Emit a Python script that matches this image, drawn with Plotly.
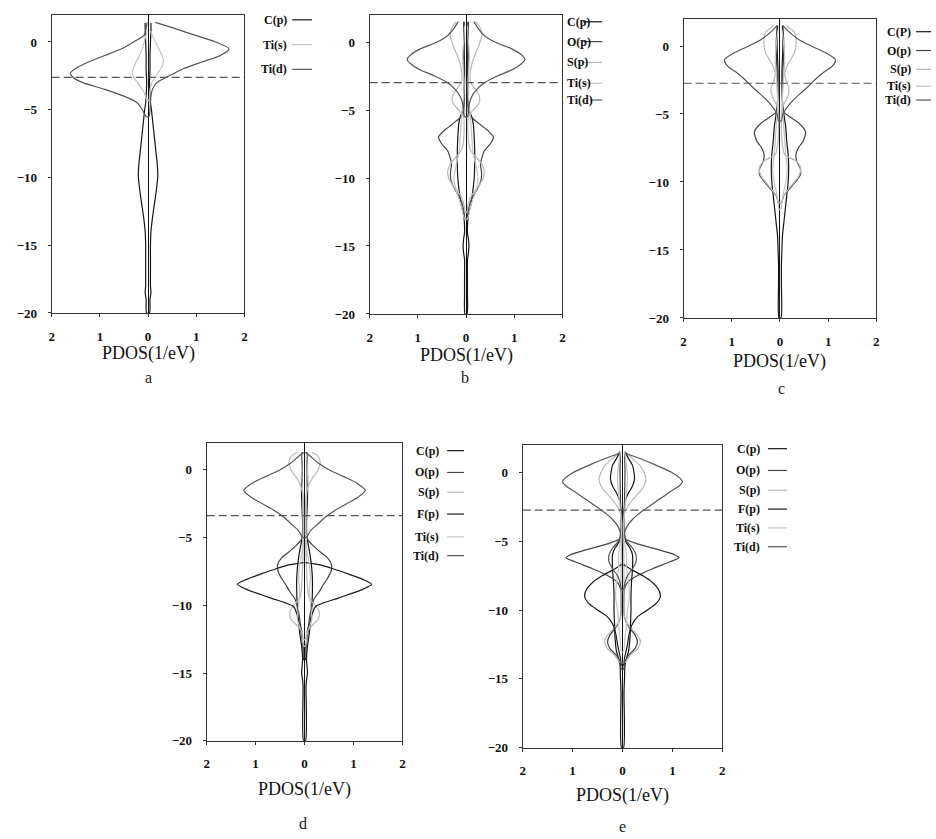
import plotly.graph_objects as go

W, H = 936, 839

# ---------------- data (energy in eV, PDOS in 1/eV) ----------------
# panel a
a_E_cp = [1.4, 1.0, 0.0, -1.0, -2.0, -3.0, -4.0, -4.5, -5.0, -6.0, -7.0, -8.0, -9.0, -9.5, -10.0, -11.0, -12.0, -13.0, -14.0, -15.0, -16.0, -17.0, -18.0, -18.5, -19.0, -20.0]
a_cp = [0.06, 0.06, 0.05, 0.04, 0.04, 0.03, 0.04, 0.05, 0.07, 0.10, 0.13, 0.16, 0.19, 0.20, 0.20, 0.17, 0.13, 0.09, 0.06, 0.05, 0.05, 0.05, 0.05, 0.06, 0.04, 0.03]
a_E_tis = [0.8, 0.0, -0.5, -1.0, -1.4, -2.0, -2.3, -2.6, -3.0, -3.5, -4.0, -4.3]
a_tis_r = [0.05, 0.15, 0.22, 0.29, 0.32, 0.26, 0.20, 0.14, 0.08, 0.04, 0.03, 0.02]
a_tis_l = [0.02, 0.08, 0.12, 0.18, 0.24, 0.31, 0.33, 0.30, 0.22, 0.12, 0.05, 0.02]
a_E_tid = [1.45, 1.0, 0.5, 0.0, -0.5, -1.0, -1.5, -2.0, -2.3, -2.6, -3.0, -3.5, -4.0, -4.5, -5.0, -5.5]
a_tid_r = [0.15, 0.55, 0.97, 1.40, 1.68, 1.50, 1.10, 0.72, 0.55, 0.38, 0.18, 0.09, 0.06, 0.05, 0.04, 0.02]
a_tid_l = [0.02, 0.04, 0.08, 0.30, 0.55, 0.90, 1.25, 1.52, 1.61, 1.56, 1.35, 0.90, 0.50, 0.22, 0.12, 0.04]

# panel b
b_E_cp = [1.5, 0.0, -2.0, -4.0, -5.0, -5.5, -6.0, -7.0, -8.0, -9.0, -10.0, -11.0, -12.0, -12.5, -13.0, -14.0, -14.5, -15.0, -15.5, -16.0, -17.0, -18.5, -20.0]
b_cp = [0.04, 0.04, 0.03, 0.04, 0.06, 0.12, 0.15, 0.17, 0.18, 0.18, 0.17, 0.14, 0.10, 0.06, 0.04, 0.03, 0.05, 0.06, 0.05, 0.03, 0.03, 0.03, 0.02]
b_E_op = [1.5, 0.0, -2.0, -4.0, -5.3, -5.8, -6.5, -7.0, -7.5, -8.0, -8.5, -9.0, -9.5, -10.0, -10.5, -11.0, -11.5, -12.0, -12.5, -13.0]
b_op = [0.05, 0.05, 0.04, 0.04, 0.06, 0.20, 0.45, 0.57, 0.50, 0.38, 0.33, 0.30, 0.32, 0.32, 0.28, 0.20, 0.12, 0.07, 0.04, 0.02]
b_E_sp = [1.5, 1.0, 0.5, 0.0, -0.5, -1.0, -1.5, -2.0, -2.5, -3.0, -3.5, -4.0, -4.5, -5.0, -5.5, -6.5, -7.5, -8.0, -8.5, -9.0, -9.5, -10.0, -10.5, -11.0, -11.5, -12.0, -12.5]
b_sp = [0.20, 0.30, 0.33, 0.29, 0.24, 0.18, 0.13, 0.10, 0.08, 0.10, 0.20, 0.28, 0.27, 0.15, 0.05, 0.04, 0.06, 0.10, 0.22, 0.33, 0.38, 0.36, 0.28, 0.17, 0.08, 0.04, 0.02]
b_E_tis = [1.2, 0.0, -1.0, -2.0, -3.0, -4.0, -5.0, -6.0, -7.0, -8.0, -9.0, -10.0, -11.0, -12.0, -13.0]
b_tis = [0.03, 0.05, 0.07, 0.06, 0.04, 0.05, 0.08, 0.10, 0.12, 0.14, 0.20, 0.25, 0.20, 0.10, 0.03]
b_E_tid = [1.5, 1.0, 0.5, 0.0, -0.5, -1.0, -1.3, -1.6, -2.0, -2.5, -3.0, -3.5, -4.0, -4.5, -5.0, -5.5]
b_tid = [0.16, 0.25, 0.37, 0.60, 0.95, 1.17, 1.22, 1.15, 0.98, 0.65, 0.38, 0.22, 0.12, 0.07, 0.05, 0.03]

# panel c
c_E_cp = [1.5, 0.0, -2.0, -4.0, -5.0, -6.0, -7.0, -8.0, -9.0, -10.0, -11.0, -12.0, -13.0, -14.0, -15.0, -16.0, -17.5, -20.0]
c_cp = [0.05, 0.06, 0.04, 0.05, 0.08, 0.12, 0.14, 0.17, 0.18, 0.17, 0.14, 0.11, 0.08, 0.05, 0.04, 0.03, 0.03, 0.02]
c_E_op = [1.5, 0.0, -2.0, -4.0, -4.8, -5.2, -5.7, -6.3, -7.0, -7.5, -8.0, -8.5, -9.0, -9.5, -10.0, -10.5, -11.0, -11.5]
c_op = [0.06, 0.08, 0.06, 0.05, 0.06, 0.20, 0.40, 0.53, 0.48, 0.38, 0.33, 0.35, 0.42, 0.42, 0.32, 0.20, 0.08, 0.03]
c_E_sp = [1.5, 1.0, 0.5, 0.0, -0.5, -1.0, -1.5, -2.0, -2.5, -3.0, -3.5, -4.0, -4.5, -5.0, -6.0, -7.0, -7.5, -8.0, -8.5, -9.0, -9.5, -10.0, -10.5, -11.0, -11.5]
c_sp = [0.12, 0.30, 0.33, 0.33, 0.30, 0.22, 0.14, 0.10, 0.12, 0.18, 0.18, 0.12, 0.05, 0.03, 0.03, 0.04, 0.06, 0.10, 0.35, 0.43, 0.40, 0.30, 0.18, 0.08, 0.02]
c_E_tis = [1.2, 0.0, -1.0, -2.0, -3.0, -4.0, -5.0, -6.0, -7.0, -8.0, -9.0, -10.0, -11.0, -12.0]
c_tis = [0.04, 0.08, 0.10, 0.08, 0.06, 0.05, 0.06, 0.08, 0.10, 0.12, 0.15, 0.12, 0.06, 0.02]
c_E_tid = [1.5, 1.0, 0.5, 0.0, -0.5, -1.0, -1.5, -2.0, -2.5, -3.0, -3.5, -4.0, -4.5, -5.0, -5.5]
c_tid = [0.06, 0.20, 0.38, 0.65, 0.95, 1.15, 1.08, 0.88, 0.72, 0.58, 0.42, 0.27, 0.15, 0.06, 0.03]

# panel d
d_E_cp = [1.3, 0.0, -2.0, -3.0, -4.0, -5.0, -6.0, -7.0, -8.0, -9.0, -10.0, -11.0, -12.0, -13.0, -14.0, -14.5, -15.0, -15.5, -16.0, -20.0]
d_cp = [0.05, 0.06, 0.06, 0.05, 0.04, 0.05, 0.10, 0.14, 0.16, 0.16, 0.15, 0.13, 0.10, 0.06, 0.04, 0.05, 0.06, 0.04, 0.03, 0.02]
d_E_op = [1.3, 0.0, -2.0, -4.0, -4.9, -5.5, -6.0, -6.5, -7.0, -7.5, -8.0, -8.5, -9.0, -9.5, -10.0, -10.5, -11.0, -11.5, -12.0, -13.0]
d_op = [0.04, 0.05, 0.04, 0.03, 0.02, 0.15, 0.30, 0.47, 0.55, 0.54, 0.47, 0.38, 0.30, 0.20, 0.15, 0.12, 0.10, 0.08, 0.05, 0.03]
d_E_sp = [1.3, 1.0, 0.5, 0.0, -0.5, -1.0, -1.5, -2.0, -4.0, -6.0, -8.0, -9.0, -9.5, -10.0, -10.5, -11.0, -11.5, -12.0, -12.5]
d_sp = [0.15, 0.28, 0.32, 0.28, 0.18, 0.10, 0.05, 0.03, 0.02, 0.03, 0.05, 0.07, 0.10, 0.22, 0.30, 0.28, 0.15, 0.05, 0.02]
d_E_fp = [-6.85, -7.0, -7.3, -7.7, -8.1, -8.45, -8.8, -9.2, -9.5, -9.8, -10.1, -10.5, -11.0, -12.0, -13.0, -14.0]
d_fp = [0.02, 0.30, 0.58, 0.90, 1.20, 1.37, 1.20, 0.90, 0.66, 0.40, 0.22, 0.17, 0.13, 0.07, 0.03, 0.02]
d_E_tis = [1.2, 0.0, -1.0, -2.0, -4.0, -6.0, -7.0, -8.0, -9.0, -10.0, -11.0, -12.0, -13.0]
d_tis = [0.04, 0.06, 0.05, 0.04, 0.03, 0.05, 0.10, 0.12, 0.10, 0.12, 0.15, 0.06, 0.02]
d_E_tid = [1.3, 1.0, 0.5, 0.0, -0.5, -1.0, -1.5, -2.0, -2.5, -3.0, -3.5, -4.0, -4.5, -5.0]
d_tid = [0.02, 0.12, 0.28, 0.50, 0.80, 1.08, 1.24, 1.10, 0.86, 0.62, 0.42, 0.27, 0.12, 0.03]

# panel e
e_E_cp = [1.5, 1.0, 0.5, 0.0, -0.5, -1.0, -1.5, -2.0, -2.5, -3.0, -4.0, -5.0, -5.5, -6.0, -7.0, -8.0, -9.0, -10.0, -11.0, -12.0, -13.0, -13.5, -14.0, -15.0, -16.0, -20.0]
e_cp = [0.05, 0.12, 0.20, 0.23, 0.24, 0.20, 0.12, 0.06, 0.04, 0.03, 0.03, 0.06, 0.15, 0.20, 0.20, 0.18, 0.17, 0.17, 0.16, 0.15, 0.12, 0.08, 0.05, 0.04, 0.03, 0.02]
e_E_op = [1.5, 0.0, -2.0, -4.0, -4.8, -5.2, -5.6, -6.0, -6.2, -6.5, -7.0, -7.5, -8.0, -8.5, -10.5, -11.2, -11.8, -12.3, -12.8, -13.3, -13.8, -14.3]
e_op = [0.04, 0.05, 0.04, 0.03, 0.05, 0.30, 0.70, 1.05, 1.13, 0.95, 0.60, 0.30, 0.10, 0.04, 0.04, 0.12, 0.25, 0.30, 0.25, 0.12, 0.05, 0.02]
e_E_sp = [1.5, 1.0, 0.5, 0.0, -0.5, -1.0, -1.5, -2.0, -2.5, -3.0, -3.5, -5.0, -7.0, -9.0, -10.5, -11.0, -11.5, -12.0, -12.3, -12.8, -13.3, -13.8]
e_sp = [0.05, 0.20, 0.35, 0.43, 0.47, 0.43, 0.33, 0.20, 0.10, 0.04, 0.02, 0.02, 0.03, 0.03, 0.04, 0.10, 0.22, 0.33, 0.36, 0.30, 0.15, 0.05]
e_E_fp = [-6.7, -7.0, -7.5, -8.0, -8.5, -9.0, -9.5, -10.0, -10.5, -11.0, -11.5, -12.0, -12.5, -13.0, -13.5, -14.0]
e_fp = [0.02, 0.15, 0.40, 0.60, 0.72, 0.76, 0.68, 0.50, 0.30, 0.20, 0.15, 0.12, 0.10, 0.07, 0.04, 0.02]
e_E_tis = [1.5, 0.5, -0.5, -1.5, -2.5, -3.5, -4.5, -5.0, -5.5, -6.0, -6.5, -7.0, -7.5, -8.0, -9.0, -10.0, -11.0, -12.0, -13.0]
e_tis = [0.04, 0.08, 0.10, 0.08, 0.05, 0.03, 0.03, 0.04, 0.06, 0.08, 0.08, 0.08, 0.10, 0.12, 0.14, 0.10, 0.08, 0.05, 0.02]
e_E_tid = [1.4, 1.0, 0.5, 0.0, -0.5, -0.7, -1.0, -1.5, -2.0, -2.5, -3.0, -3.5, -4.0, -4.5, -5.0, -5.5, -6.0, -6.5, -7.0, -7.5, -8.0, -8.5]
e_tid = [0.05, 0.35, 0.68, 0.98, 1.17, 1.20, 1.13, 0.92, 0.72, 0.52, 0.33, 0.18, 0.08, 0.04, 0.08, 0.20, 0.27, 0.27, 0.20, 0.10, 0.05, 0.02]

fermi_levels = [-2.62, -2.98, -2.74, -3.38, -2.75]
x_tick_vals = [-2, -1, 0, 1, 2]
x_tick_text = ["2", "1", "0", "1", "2"]
y_tick_vals = [0, -5, -10, -15, -20]
panel_letters = ["a", "b", "c", "d", "e"]

COL = {"C(p)": "#151515", "C(P)": "#151515", "O(p)": "#444444", "S(p)": "#b8b8b8",
       "F(p)": "#1a1a1a", "Ti(s)": "#c4c4c4", "Ti(d)": "#555555"}

panels = [
    [("C(p)", a_E_cp, a_cp, a_cp), ("Ti(s)", a_E_tis, a_tis_r, a_tis_l), ("Ti(d)", a_E_tid, a_tid_r, a_tid_l)],
    [("C(p)", b_E_cp, b_cp, b_cp), ("O(p)", b_E_op, b_op, b_op), ("S(p)", b_E_sp, b_sp, b_sp),
     ("Ti(s)", b_E_tis, b_tis, b_tis), ("Ti(d)", b_E_tid, b_tid, b_tid)],
    [("C(P)", c_E_cp, c_cp, c_cp), ("O(p)", c_E_op, c_op, c_op), ("S(p)", c_E_sp, c_sp, c_sp),
     ("Ti(s)", c_E_tis, c_tis, c_tis), ("Ti(d)", c_E_tid, c_tid, c_tid)],
    [("C(p)", d_E_cp, d_cp, d_cp), ("O(p)", d_E_op, d_op, d_op), ("S(p)", d_E_sp, d_sp, d_sp),
     ("F(p)", d_E_fp, d_fp, d_fp), ("Ti(s)", d_E_tis, d_tis, d_tis), ("Ti(d)", d_E_tid, d_tid, d_tid)],
    [("C(p)", e_E_cp, e_cp, e_cp), ("O(p)", e_E_op, e_op, e_op), ("S(p)", e_E_sp, e_sp, e_sp),
     ("F(p)", e_E_fp, e_fp, e_fp), ("Ti(s)", e_E_tis, e_tis, e_tis), ("Ti(d)", e_E_tid, e_tid, e_tid)],
]

# ---------------- layout geometry (pixels) ----------------
frames = [(49, 243, 15, 316), (369, 563, 15, 317), (685, 879, 19, 321),
          (205, 402, 447, 748), (523, 724, 449, 755)]
legend_y = [[20, 45, 70], [22, 42, 63, 84, 101], [32, 51, 70, 87, 101],
            [455, 477, 497, 519, 542, 561], [453, 475, 495, 514, 533, 552]]
# (text anchor x, anchor side, line x0, line x1)
legend_x = [(288, "right", 291, 311), (566, "left", 584, 603), (916, "right", 919, 934),
            (441, "right", 447, 464), (764, "right", 770, 789)]
title_y = [357, 359, 365, 797, 803]
letter_pos = [(146, 381), (465, 381), (784, 392), (302, 831), (623, 834)]

def px(x):
    return x / W

def py(y):
    return 1 - y / H

fig = go.Figure()
SERIF = "Liberation Serif"
annotations = []
shapes = []

for i, (series, fr) in enumerate(zip(panels, frames)):
    k = "" if i == 0 else str(i + 1)
    xa, ya = "x" + k, "y" + k
    for name, E, r, l in series:
        xs = list(r) + [-v for v in reversed(l)]
        ys = list(E) + list(reversed(E))
        fig.add_trace(go.Scatter(x=xs, y=ys, mode="lines", xaxis=xa, yaxis=ya,
                                 line=dict(color=COL[name], width=1.2, shape="spline", smoothing=0.7),
                                 showlegend=False, hoverinfo="skip"))
    x0, x1, y0, y1 = fr
    axis_common = dict(showline=True, mirror=True, linecolor="#333", linewidth=1,
                       showgrid=False, ticks="outside", ticklen=3, tickcolor="#333",
                       tickfont=dict(family=SERIF, size=13, color="#111", weight="bold"))
    fig.update_layout(**{
        "xaxis" + k: dict(domain=[px(x0), px(x1)], anchor=ya, range=[-2, 2],
                          tickvals=x_tick_vals, ticktext=x_tick_text,
                          zeroline=True, zerolinecolor="#111", zerolinewidth=1.2,
                          ticklabelstandoff=8, **axis_common),
        "yaxis" + k: dict(domain=[py(y1), py(y0)], anchor=xa, range=[-20, 2],
                          tickvals=y_tick_vals, zeroline=False, ticklabelstandoff=8,
                          **axis_common),
    })
    shapes.append(dict(type="line", xref=xa + " domain", yref=ya, x0=0, x1=1,
                       y0=fermi_levels[i], y1=fermi_levels[i],
                       line=dict(color="#555", width=1.2, dash="8px,4px")))
    # legend
    tx, side, lx0, lx1 = legend_x[i]
    for j, ((name, _, _, _), yy) in enumerate(zip(series, legend_y[i])):
        annotations.append(dict(x=px(tx), y=py(yy), xref="paper", yref="paper", text=name,
                                showarrow=False, xanchor=side, yanchor="middle",
                                font=dict(family=SERIF, size=12, color="#111", weight="bold")))
        x_start = lx0
        if side == "left" and name == "Ti(d)":
            x_start = lx0 + 7
        shapes.append(dict(type="line", xref="paper", yref="paper", x0=px(x_start), x1=px(lx1),
                           y0=py(yy), y1=py(yy), line=dict(color=COL[name], width=1.2)))
    annotations.append(dict(x=px((x0 + x1) / 2), y=py(title_y[i]), xref="paper", yref="paper",
                            text="PDOS(1/eV)", showarrow=False, xanchor="center", yanchor="middle",
                            font=dict(family=SERIF, size=18, color="#111")))
    lxp, lyp = letter_pos[i]
    annotations.append(dict(x=px(lxp), y=py(lyp), xref="paper", yref="paper",
                            text=panel_letters[i], showarrow=False, xanchor="center", yanchor="middle",
                            font=dict(family=SERIF, size=16, color="#222")))

fig.update_layout(width=W, height=H, margin=dict(l=0, r=0, t=0, b=0),
                  paper_bgcolor="white", plot_bgcolor="white",
                  annotations=annotations, shapes=shapes, showlegend=False)

fig.write_html("out.html")
